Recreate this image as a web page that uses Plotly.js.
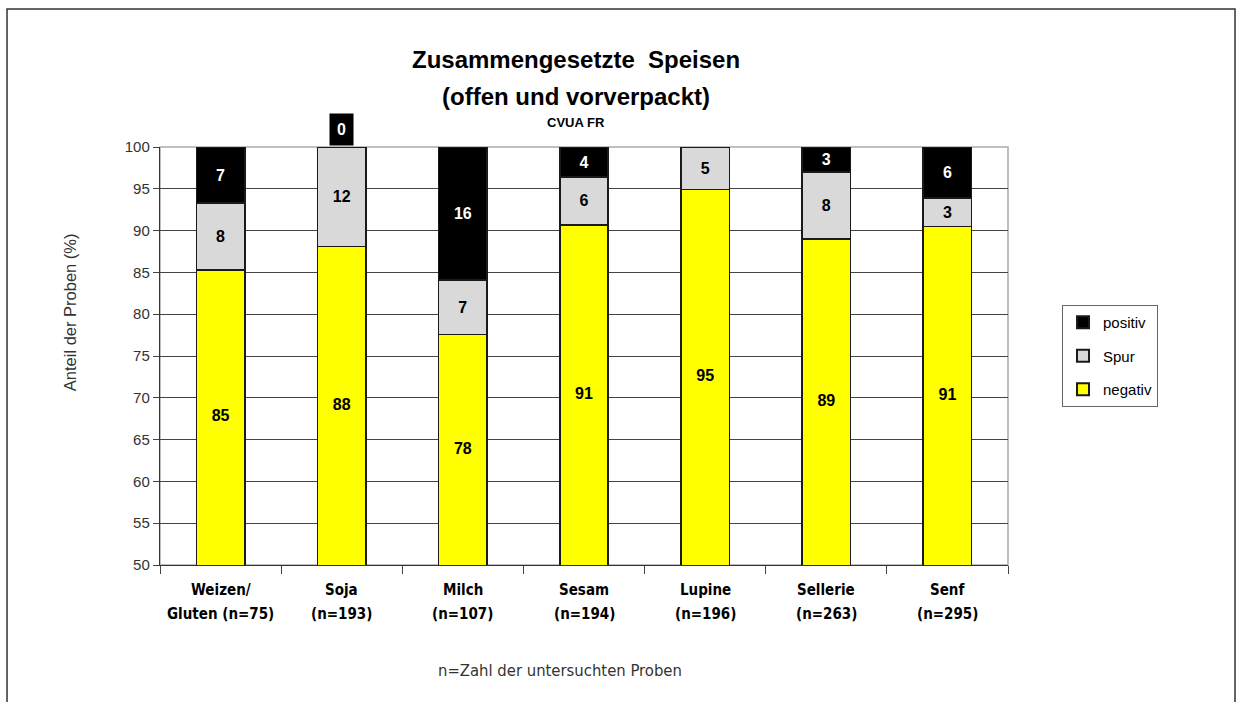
<!DOCTYPE html>
<html>
<head>
<meta charset="utf-8">
<script src="https://cdn.plot.ly/plotly-3.0.1.min.js"></script>
<style>
html,body{margin:0;padding:0;background:#fff;}
#chart{width:1236px;height:702px;}
</style>
</head>
<body>
<div id="chart"></div>
<script>
// Data (percent of samples)
var categories = ["Weizen/", "Soja", "Milch", "Sesam", "Lupine", "Sellerie", "Senf"];
var sampleLabels = ["Gluten (n=75)", "(n=193)", "(n=107)", "(n=194)", "(n=196)", "(n=263)", "(n=295)"];
var negativ = [85.3, 88.1, 77.6, 90.7, 94.9, 89.0, 90.5];
var spur    = [8.0, 11.9, 6.5, 5.7, 5.1, 8.0, 3.4];
var positiv = [6.7, 0.0, 15.9, 3.6, 0.0, 3.0, 6.1];
var zeroLabelCategory = "Soja";

var yMin = 50, yMax = 100;
var yTicks = [50, 55, 60, 65, 70, 75, 80, 85, 90, 95, 100];

function labels(arr) {
  return arr.map(function (v) { return v > 0 ? String(Math.round(v)) : ""; });
}

var FONT = "Liberation Sans, Arial, sans-serif";
var NARROW = "Liberation Sans Narrow, DejaVu Sans Condensed, Arial Narrow, sans-serif";
var barFont = {family: FONT, size: 16, weight: 700};
var lineStyle = {color: "#1a1a1a", width: 1.5};

var traces = [
  {
    type: "bar", name: "negativ", x: categories, y: negativ, legendgroup: "n", legendrank: 3,
    marker: {color: "#ffff00", line: lineStyle},
    hoverinfo: "y+name"
  },
  {
    type: "bar", name: "Spur", x: categories, y: spur, legendgroup: "s", legendrank: 2,
    marker: {color: "#d9d9d9", line: lineStyle},
    text: labels(spur), textposition: "inside", insidetextanchor: "middle",
    textfont: Object.assign({color: "#000"}, barFont), constraintext: "none",
    hoverinfo: "y+name"
  },
  {
    type: "bar", name: "positiv", x: categories, y: positiv, legendgroup: "p", legendrank: 1,
    marker: {color: "#000000", line: lineStyle},
    text: labels(positiv), textposition: "inside", insidetextanchor: "middle",
    textfont: Object.assign({color: "#fff"}, barFont), constraintext: "none",
    hoverinfo: "y+name"
  },
  {
    // labels for the visible part of the "negativ" segments
    type: "scatter", mode: "text", showlegend: false, hoverinfo: "skip",
    x: categories,
    y: negativ.map(function (v) { return (yMin + v) / 2; }),
    text: labels(negativ),
    textposition: "middle center",
    textfont: Object.assign({color: "#000"}, barFont),
    cliponaxis: false
  }
];

var annotations = [
  {text: "<b>Zusammengesetzte  Speisen</b>", xref: "paper", yref: "paper", x: 0.49, y: 1.2105,
   showarrow: false, xanchor: "center", yanchor: "middle",
   font: {family: FONT, size: 24, color: "#000"}},
  {text: "<b>(offen und vorverpackt)</b>", xref: "paper", yref: "paper", x: 0.49, y: 1.122,
   showarrow: false, xanchor: "center", yanchor: "middle",
   font: {family: FONT, size: 24, color: "#000"}},
  {text: "<b>CVUA FR</b>", xref: "paper", yref: "paper", x: 0.49, y: 1.0598,
   showarrow: false, xanchor: "center", yanchor: "middle",
   font: {family: FONT, size: 13, color: "#000"}},
  {text: "Anteil der Proben (%)", xref: "paper", yref: "paper", x: -0.106, y: 0.605,
   showarrow: false, textangle: -90, xanchor: "center", yanchor: "middle",
   font: {family: FONT, size: 16.5, color: "#333"}},
  {text: "n=Zahl der untersuchten Proben", xref: "paper", yref: "paper", x: 0.4717, y: -0.2512,
   showarrow: false, xanchor: "center", yanchor: "middle",
   font: {family: NARROW, size: 16.5, color: "#333"}}
];

// Category labels (two lines)
categories.forEach(function (c, i) {
  annotations.push({text: "<b>" + c + "</b>", x: c, xref: "x", yref: "paper", y: -0.0598,
    showarrow: false, xanchor: "center", yanchor: "middle",
    font: {family: NARROW, size: 15, color: "#000"}});
  annotations.push({text: "<b>" + sampleLabels[i] + "</b>", x: c, xref: "x", yref: "paper", y: -0.1172,
    showarrow: false, xanchor: "center", yanchor: "middle",
    font: {family: NARROW, size: 15, color: "#000"}});
});

// "0" label above Soja
var zi = categories.indexOf(zeroLabelCategory);
annotations.push({text: "<b>" + Math.round(positiv[zi]) + "</b>", x: zeroLabelCategory, xref: "x",
  y: negativ[zi] + spur[zi] + positiv[zi], yref: "y", yanchor: "bottom", xanchor: "center",
  showarrow: false, yshift: 1, bgcolor: "#000", borderpad: 7,
  font: {family: FONT, size: 16, color: "#fff"}});

var layout = {
  width: 1236, height: 702,
  margin: {l: 160, r: 228, t: 147, b: 137},
  paper_bgcolor: "#fff", plot_bgcolor: "#fff",
  barmode: "stack", bargap: 0.6,
  showlegend: true,
  legend: {
    x: 1.0637, xanchor: "left", y: 0.622, yanchor: "top",
    traceorder: "grouped", tracegroupgap: 11,
    bordercolor: "#666", borderwidth: 1,
    font: {family: FONT, size: 15, color: "#000"},
    itemsizing: "constant", itemwidth: 30
  },
  xaxis: {
    type: "category", showticklabels: false,
    ticks: "outside", tickson: "boundaries", ticklen: 8, tickcolor: "#444", tickwidth: 1,
    showline: true, linecolor: "#333", linewidth: 1.2,
    showgrid: false, zeroline: false, fixedrange: true
  },
  yaxis: {
    range: [yMin, yMax], tickvals: yTicks, ticktext: yTicks.map(String),
    ticks: "outside", ticklen: 6, tickcolor: "#444", tickwidth: 1,
    showline: true, linecolor: "#333", linewidth: 1.2,
    showgrid: true, gridcolor: "#444", gridwidth: 1, zeroline: false,
    tickfont: {family: FONT, size: 15, color: "#333"},
    fixedrange: true
  },
  annotations: annotations,
  shapes: [
    {type: "rect", xref: "paper", yref: "paper", x0: 0, x1: 1, y0: 0, y1: 1,
     line: {color: "#aaa", width: 1.5}, layer: "below"},
    {type: "path", xref: "paper", yref: "paper",
     path: "M -0.1804 -0.4 L -0.1804 1.3301 L 1.2677 1.3301 L 1.2677 -0.4",
     line: {color: "#333", width: 1.5}}
  ]
};

Plotly.newPlot("chart", traces, layout, {displayModeBar: false, staticPlot: true});
</script>
</body>
</html>
